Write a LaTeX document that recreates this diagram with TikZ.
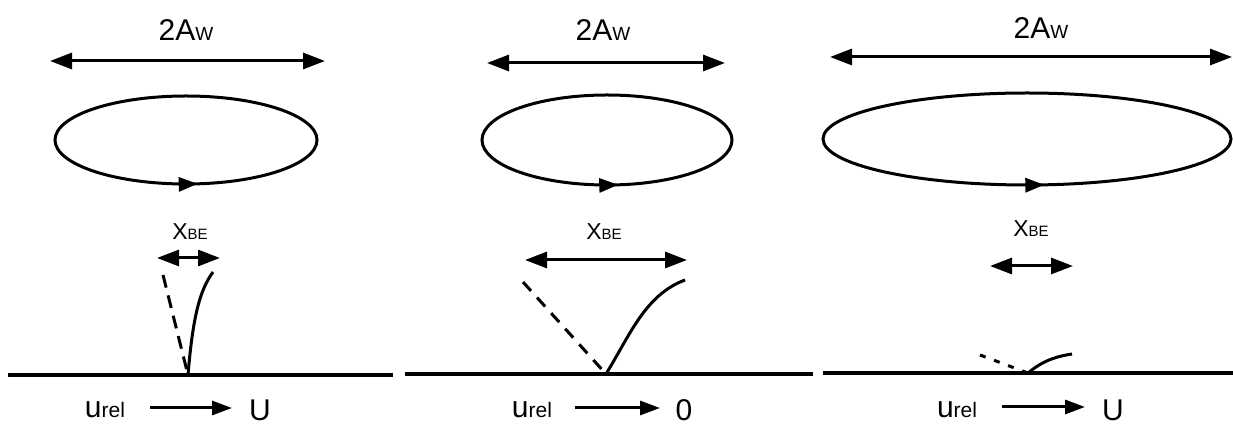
\documentclass[tikz,border=0pt]{standalone}
\usepackage{fontspec}
\setmainfont{Liberation Sans}
\usetikzlibrary{arrows.meta,decorations.markings}

\newcommand{\smalltxt}[2]{{\fontsize{#1}{#1}\selectfont #2}}

\tikzset{
  dimarrow/.style={line width=3pt, {Triangle[length=22pt,width=16pt]}-{Triangle[length=22pt,width=16pt]}},
  flowarrow/.style={line width=3pt, -{Triangle[length=20pt,width=14pt]}},
  orbit/.style={line width=3pt, postaction=decorate,
    decoration={markings, mark=at position 0.77 with {\arrow{Triangle[length=19pt,width=14pt]}}}},
  ground/.style={line width=3.4pt},
  wake/.style={line width=3pt},
  lbl/.style={inner sep=0pt, font=\fontsize{30}{30}\selectfont},
  smalllbl/.style={inner sep=0pt, font=\fontsize{23}{23}\selectfont}
}

\begin{document}
\begin{tikzpicture}[x=1pt, y=1pt]
  \useasboundingbox (0,0) rectangle (1233,425);

  % panel 1
  \node[lbl] (amp1) at (186,395) {2A\smalltxt{19}{W}};
  \coordinate (a1l) at (50,364);
  \coordinate (a1r) at (325,364);
  \draw[dimarrow] (a1l) -- (a1r);
  \draw[orbit] (186,285) ellipse [x radius=131, y radius=44];
  \node[smalllbl] (xbe1) at (190,193) {X\smalltxt{15}{BE}};
  \coordinate (x1l) at (157,167);
  \coordinate (x1r) at (220,167);
  \draw[dimarrow] (x1l) -- (x1r);
  \coordinate (g1l) at (8,50);
  \coordinate (g1r) at (393,50);
  \coordinate (v1) at (188,50);
  \draw[ground] (g1l) -- (g1r);
  \draw[wake, dashed, dash pattern=on 13pt off 8pt] (163,150) -- (v1);
  \draw[wake] (v1) .. controls (193,110) and (200,135) .. (213,153);
  \node[lbl] (u1) at (105,15) {u\smalltxt{21}{rel}};
  \node[lbl] (U1) at (260,15) {U};
  \draw[flowarrow] (150,17) -- (232,17);

  % panel 2
  \node[lbl] (amp2) at (603,395) {2A\smalltxt{19}{W}};
  \coordinate (a2l) at (487,362);
  \coordinate (a2r) at (725,362);
  \draw[dimarrow] (a2l) -- (a2r);
  \draw[orbit] (607,285) ellipse [x radius=125, y radius=45];
  \node[smalllbl] (xbe2) at (604,193) {X\smalltxt{15}{BE}};
  \coordinate (x2l) at (525,165);
  \coordinate (x2r) at (687,165);
  \draw[dimarrow] (x2l) -- (x2r);
  \coordinate (g2l) at (405,51);
  \coordinate (g2r) at (813,51);
  \coordinate (v2) at (606,51);
  \draw[ground] (g2l) -- (g2r);
  \draw[wake, dashed, dash pattern=on 12pt off 9pt] (523,143) -- (v2);
  \draw[wake] (v2) .. controls (630,90) and (645,130) .. (685,145);
  \node[lbl] (u2) at (532,15) {u\smalltxt{21}{rel}};
  \node[lbl] (U2) at (684,15) {0};
  \draw[flowarrow] (575,17) -- (660,17);

  % panel 3
  \node[lbl] (amp3) at (1041,397) {2A\smalltxt{19}{W}};
  \coordinate (a3l) at (830,368);
  \coordinate (a3r) at (1232,368);
  \draw[dimarrow] (a3l) -- (a3r);
  \draw[orbit] (1027,286) ellipse [x radius=204, y radius=46];
  \node[smalllbl] (xbe3) at (1031,196) {X\smalltxt{15}{BE}};
  \coordinate (x3l) at (990,159);
  \coordinate (x3r) at (1073,159);
  \draw[dimarrow] (x3l) -- (x3r);
  \coordinate (g3l) at (823,52);
  \coordinate (g3r) at (1233,52);
  \coordinate (v3) at (1028,52);
  \draw[ground] (g3l) -- (g3r);
  \draw[wake, dashed, dash pattern=on 6pt off 9pt] (980,70) -- (v3);
  \draw[wake] (v3) .. controls (1040,62) and (1052,68) .. (1072,71);
  \node[lbl] (u3) at (957,15) {u\smalltxt{21}{rel}};
  \node[lbl] (U3) at (1113,15) {U};
  \draw[flowarrow] (1002,18) -- (1085,18);
\end{tikzpicture}
\end{document}
